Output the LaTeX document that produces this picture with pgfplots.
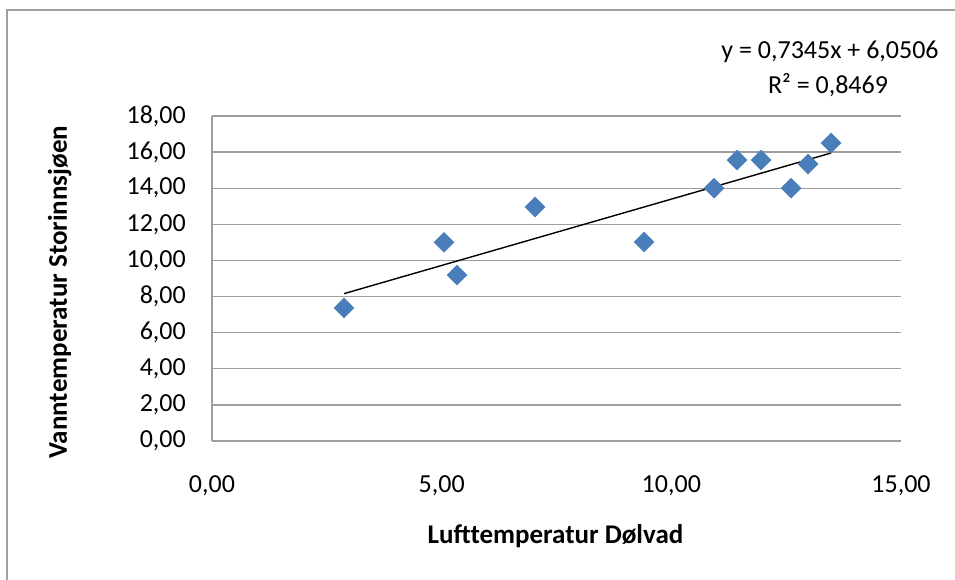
\documentclass[border=0pt]{standalone}
\usepackage{fontspec}
\setmainfont{Carlito}
\usepackage{pgfplots}
\pgfplotsset{compat=1.18}
\definecolor{ptblue}{HTML}{4A7EBB}
\definecolor{gridgray}{HTML}{9E9E9E}
\definecolor{framegray}{HTML}{A0A0A0}
\begin{document}
\begin{tikzpicture}[x=1pt,y=1pt]
\useasboundingbox (0,0) rectangle (955,580);
\draw[framegray, line width=2pt] (7,-5) -- (7,570) -- (960,570);
\begin{axis}[
  at={(212pt,139pt)}, anchor=south west,
  scale only axis, width=689pt, height=325pt,
  xmin=0, xmax=15, ymin=0, ymax=18,
  xtick={0,5,10,15}, ytick={0,2,...,18},
  axis x line*=bottom, axis y line*=left,
  axis line style={-, gridgray, line width=1.3pt},
  ymajorgrids, grid style={gridgray, line width=1.3pt},
  major tick length=0pt,
  /pgf/number format/assume math mode=true,
  /pgf/number format/.cd, fixed, fixed zerofill, precision=2, use comma, 1000 sep={},
  /pgfplots/.cd,
  tick label style={font=\fontsize{26}{30}\selectfont, inner sep=0pt},
  xticklabel style={anchor=base, yshift=-52pt},
  yticklabel style={anchor=east, xshift=-26pt},
  xlabel={Lufttemperatur Dølvad},
  ylabel={Vanntemperatur Storinnsjøen},
  label style={font=\bfseries\fontsize{27}{31}\selectfont},
  xlabel style={at={(axis description cs:0.4986,-0.292)}, anchor=center},
  ylabel style={at={(axis description cs:-0.221,0.458)}, anchor=center},
  clip=false,
]
\addplot[only marks, mark=square*, mark size=7.07pt,
  mark options={rotate=45, fill=ptblue, draw=ptblue}] coordinates {
  (2.874,7.37) (5.051,11.00) (5.334,9.19) (7.032,12.96) (9.406,11.02)
  (10.930,14.00) (11.430,15.56) (11.953,15.56) (12.606,14.00)
  (12.976,15.34) (13.478,16.50)
};
\addplot[black, line width=1.4pt] coordinates {(2.874,8.161) (13.478,15.950)};
\end{axis}
\node[font=\fontsize{26}{30}\selectfont] at (830,528) {y = 0,7345x + 6,0506};
\node[font=\fontsize{26}{30}\selectfont] at (828,495) {R² = 0,8469};
\end{tikzpicture}
\end{document}
